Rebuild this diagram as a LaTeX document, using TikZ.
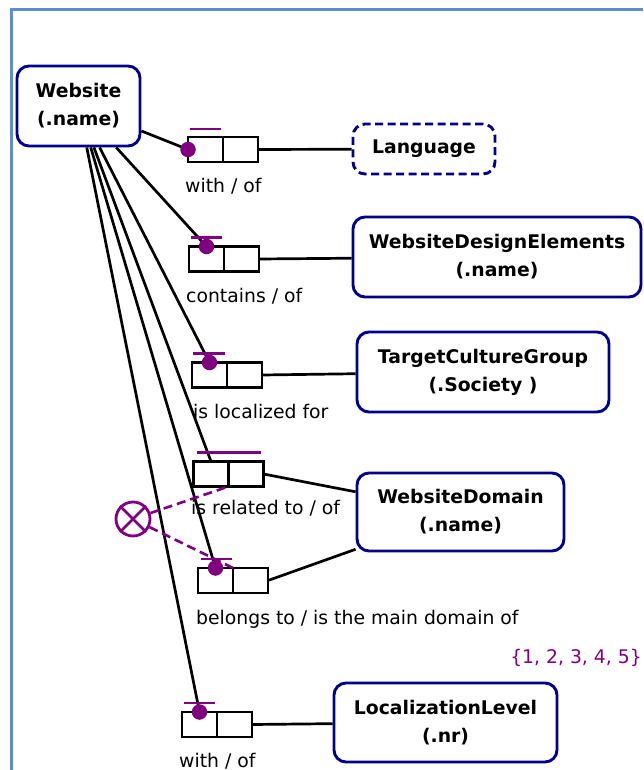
\documentclass[tikz,border=0pt]{standalone}
\usepackage{fontspec}
\setmainfont{DejaVu Sans}
\usetikzlibrary{calc}
\definecolor{entityblue}{RGB}{0,0,140}
\definecolor{constraint}{RGB}{128,0,128}
\definecolor{framecol}{RGB}{95,140,205}
\tikzset{
  entity/.style={draw=entityblue, line width=2.9pt, rounded corners=12pt, fill=white,
    font=\fontsize{18.8}{28}\selectfont\bfseries, align=center, inner sep=0pt},
  cell/.style={line width=2.7pt, minimum width=35pt, minimum height=25pt,
    inner sep=0pt, outer sep=0pt},
  conn/.style={line width=2.7pt},
  dotc/.style={circle, fill=constraint, inner sep=0pt, minimum size=15.5pt},
  ubar/.style={draw=constraint, line width=2.6pt},
  rolelabel/.style={font=\fontsize{18.8}{22}\selectfont, inner sep=0pt, anchor=base west},
  xdash/.style={draw=constraint, line width=2.6pt, dash pattern=on 9pt off 5pt}
}
\begin{document}
\begin{tikzpicture}[x=1pt, y=-1pt]
\useasboundingbox (0,0) rectangle (643,770);

% page frame
\draw[framecol, line width=3pt] (11,770) -- (11,10) -- (643,10);

% object types
\node[entity, minimum width=123pt, minimum height=80pt] (web) at (78.5,106) {Website\\(.name)};
\node[entity, dash pattern=on 8pt off 4.5pt, minimum width=142pt, minimum height=50pt] (lang) at (424,149) {Language};
\node[entity, minimum width=288pt, minimum height=80pt] (wde) at (497,257) {WebsiteDesignElements\\(.name)};
\node[entity, minimum width=252pt, minimum height=80pt] (tcg) at (483,372) {TargetCultureGroup\\(.Society )};
\node[entity, minimum width=207pt, minimum height=78pt] (wdom) at (460.5,512) {WebsiteDomain\\(.name)};
\node[entity, minimum width=223pt, minimum height=79pt] (loclev) at (445.5,722.5) {LocalizationLevel\\(.nr)};

% fact type role boxes (two roles each)
\node[cell] (r1a) at (205.5,149.5) {};
\node[cell, anchor=west] (r1b) at (r1a.east) {};
\node[cell] (r2a) at (206.5,259) {};
\node[cell, anchor=west] (r2b) at (r2a.east) {};
\node[cell] (r3a) at (209.5,375) {};
\node[cell, anchor=west] (r3b) at (r3a.east) {};
\node[cell] (r4a) at (211,474) {};
\node[cell, anchor=west] (r4b) at (r4a.east) {};
\node[cell] (r5a) at (215.5,580.5) {};
\node[cell, anchor=west] (r5b) at (r5a.east) {};
\node[cell] (r6a) at (199.5,724.5) {};
\node[cell, anchor=west] (r6b) at (r6a.east) {};

% mandatory role dots
\coordinate (d1) at (r1a.west);
\coordinate (d2) at (r2a.north);
\coordinate (d3) at (r3a.north);
\coordinate (d5) at (r5a.north);
\coordinate (d6) at (r6a.north);

% connectors from Website to its roles
\draw[conn] (web) -- (d1);
\draw[conn] (web) -- (d2);
\draw[conn] (web) -- (d3);
\draw[conn] (web) -- (r4a.north);
\draw[conn] (web) -- (d5);
\draw[conn] (web) -- (d6);

% role box outlines
\foreach \r in {r1,r2,r3,r4,r5,r6}{
  \draw[line width=2.7pt] (\r a.north west) rectangle (\r b.south east);
  \draw[line width=2.7pt] (\r a.north east) -- (\r a.south east);
}

% connectors from roles to the other object types
\draw[conn] (r1b.east) -- (lang);
\draw[conn] (r2b.east) -- (wde);
\draw[conn] (r3b.east) -- (tcg);
\draw[conn] (r4b.east) -- (wdom);
\draw[conn] (r5b.east) -- (wdom);
\draw[conn] (r6b.east) -- (loclev);

% uniqueness bars
\draw[ubar] ([xshift=2pt,yshift=8pt]r1a.north west) -- ([xshift=-2pt,yshift=8pt]r1a.north east);
\draw[ubar] ([xshift=2pt,yshift=9pt]r2a.north west) -- ([xshift=-2pt,yshift=9pt]r2a.north east);
\draw[ubar] ([xshift=1pt,yshift=9pt]r3a.north west) -- ([xshift=-2pt,yshift=9pt]r3a.north east);
\draw[ubar] ([xshift=3pt,yshift=9pt]r4a.north west) -- ([xshift=-3pt,yshift=9pt]r4b.north east);
\draw[ubar] ([xshift=3pt,yshift=9pt]r5a.north west) -- ([xshift=-1pt,yshift=9pt]r5a.north east);
\draw[ubar] ([xshift=2pt,yshift=9pt]r6a.north west) -- ([xshift=-2pt,yshift=9pt]r6a.north east);

% exclusion constraint
\node[circle, draw=constraint, line width=2.8pt, minimum size=34pt, inner sep=0pt] (xc) at (133,519) {};
\draw[constraint, line width=2.8pt] (xc.north west) -- (xc.south east);
\draw[constraint, line width=2.8pt] (xc.north east) -- (xc.south west);
\draw[xdash] (xc) -- (r4a.south east);
\draw[xdash] (xc) -- (r5a.north east);

% mandatory dots on top
\foreach \d in {d1,d2,d3,d5,d6}{
  \node[dotc] at (\d) {};
}

% role readings
\node[rolelabel] (l1) at (185,193) {with / of};
\node[rolelabel] (l2) at (186,302) {contains / of};
\node[rolelabel] (l3) at (193,418) {is localized for};
\node[rolelabel] (l4) at (191,514) {is related to / of};
\node[rolelabel] (l5) at (196,624) {belongs to / is the main domain of};
\node[rolelabel] (l6) at (179,767) {with / of};

% value constraint
\node[font=\fontsize{18.8}{22}\selectfont, text=constraint, inner sep=0pt, anchor=base east] (vals) at (642,663) {\{1, 2, 3, 4, 5\}};
\end{tikzpicture}
\end{document}
